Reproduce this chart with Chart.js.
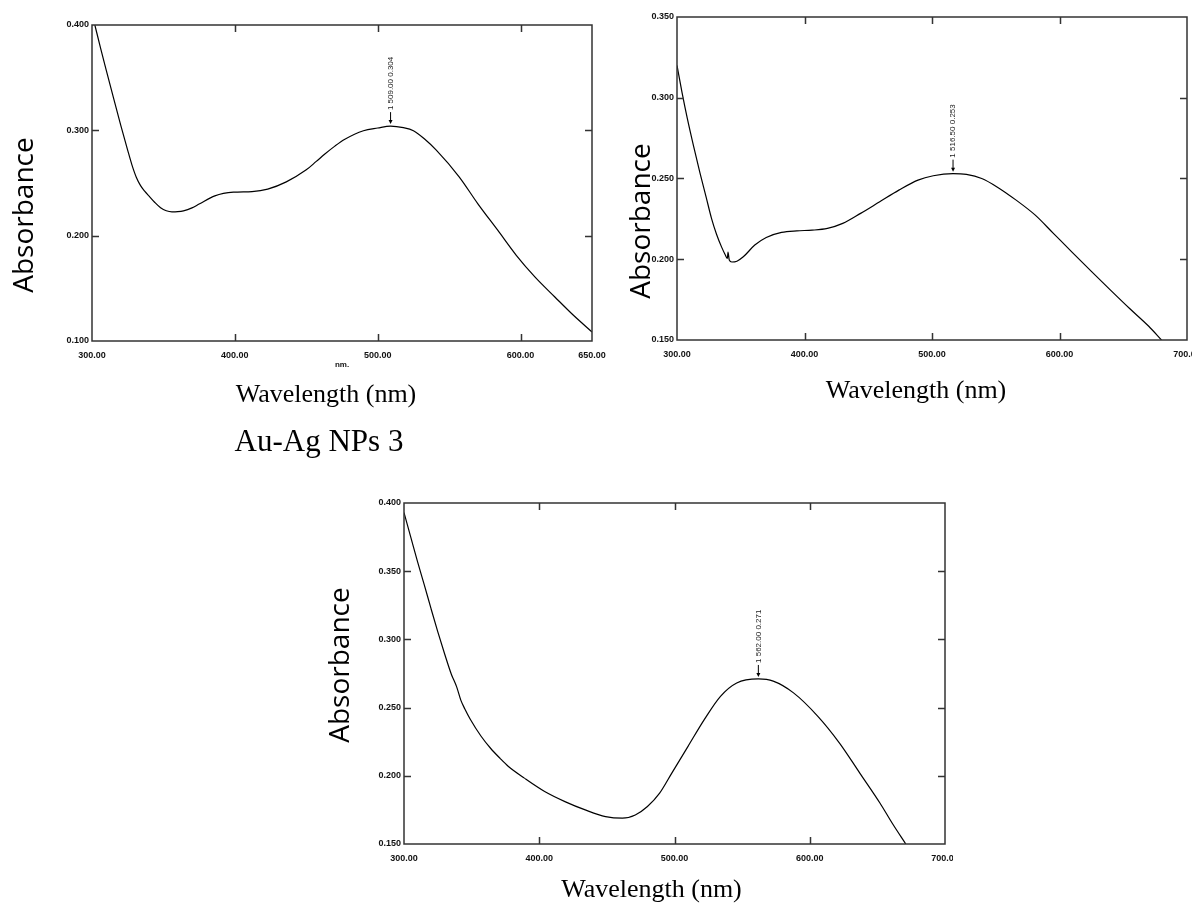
<!DOCTYPE html>
<html>
<head>
<meta charset="utf-8">
<title>UV-Vis absorbance spectra</title>
<script src="https://cdn.jsdelivr.net/npm/chart.js@4.4.1/dist/chart.umd.min.js"></script>
<style>
    html, body { margin: 0; padding: 0; background: #fff; }
    body { position: relative; width: 1192px; height: 903px; overflow: hidden; }
    .panel { position: absolute; overflow: hidden; }
    .panel canvas { display: block; }
</style>
</head>
<body>
<div class="panel" style="left:0;top:0;width:620px;height:420px"><canvas id="spectrum1" width="620" height="420"></canvas></div>
<div class="panel" style="left:580px;top:0;width:612px;height:420px"><canvas id="spectrum2" width="640" height="420"></canvas></div>
<div class="panel" style="left:200px;top:420px;width:753px;height:483px"><canvas id="spectrum3" width="800" height="483"></canvas></div>
<script>
// Sample 1 spectrum (nm / absorbance)
const wavelength1 = [302, 306, 310, 315, 320, 325, 328, 331, 334, 337, 340, 344, 348, 352, 356, 360, 364, 370, 375, 386, 399, 412, 423, 436, 450, 457, 463, 470, 477, 490, 500, 509, 518, 525, 533, 541, 557, 570, 584, 597, 610, 624, 637, 650];
const absorbance1 = [0.400, 0.378, 0.357, 0.331, 0.3055, 0.281, 0.267, 0.2555, 0.2475, 0.242, 0.2375, 0.2315, 0.2265, 0.2236, 0.2226, 0.2228, 0.2236, 0.2264, 0.230, 0.2378, 0.2413, 0.2419, 0.2442, 0.2511, 0.2625, 0.2705, 0.2775, 0.285, 0.2915, 0.2996, 0.3022, 0.304, 0.3025, 0.2996, 0.2915, 0.2812, 0.2559, 0.2305, 0.2052, 0.1814, 0.1609, 0.1418, 0.1244, 0.1086];

// Sample 2 spectrum
const wavelength2 = [300, 304, 308, 313, 318, 323, 327, 331, 335, 338, 339.5, 340, 341, 343, 347, 352, 361, 370, 382, 394, 406, 418, 430, 444, 459, 474, 489, 501, 516.5, 527, 539, 551, 566, 581, 595, 610, 625, 640, 655, 670, 680];
const absorbance2 = [0.320, 0.303, 0.2875, 0.270, 0.2535, 0.238, 0.2255, 0.2155, 0.2075, 0.2025, 0.2005, 0.2045, 0.1995, 0.1983, 0.1988, 0.2015, 0.2088, 0.2135, 0.2166, 0.2176, 0.218, 0.2191, 0.2222, 0.2284, 0.2356, 0.2428, 0.249, 0.2517, 0.253, 0.2525, 0.250, 0.2448, 0.2366, 0.2273, 0.2162, 0.2043, 0.1925, 0.1809, 0.1695, 0.1585, 0.150];

// Sample 3 spectrum (Au-Ag NPs 3)
const wavelength3 = [300, 305, 310, 315, 320, 325, 330, 335, 339, 342, 345, 349, 357, 364, 371, 377, 389, 404, 419, 434, 449, 461.5, 471, 480, 489, 498, 510, 522, 534, 546, 562, 573, 588, 606, 622, 637, 652, 661, 671];
const absorbance3 = [0.393, 0.375, 0.357, 0.340, 0.3225, 0.3055, 0.2895, 0.2745, 0.265, 0.2555, 0.249, 0.2415, 0.229, 0.2202, 0.2128, 0.207, 0.1983, 0.1885, 0.1811, 0.175, 0.1701, 0.1689, 0.1713, 0.1775, 0.1873, 0.202, 0.2216, 0.2412, 0.2583, 0.2681, 0.271, 0.2694, 0.2608, 0.2436, 0.224, 0.202, 0.1799, 0.1652, 0.150];

// Picked maxima [nm, absorbance]
const peak1 = [509.00, 0.304];
const peak2 = [516.50, 0.253];
const peak3 = [562.00, 0.271];

// Axis ticks
const xTicks1 = [300, 400, 500, 600, 650];
const xTicks23 = [300, 400, 500, 600, 700];
const yTicks1 = [0.1, 0.2, 0.3, 0.4];
const yTicks2 = [0.15, 0.2, 0.25, 0.3, 0.35];
const yTicks3 = [0.15, 0.2, 0.25, 0.3, 0.35, 0.4];

const SANS = '"Liberation Sans", Arial, sans-serif';
const SERIF = '"Liberation Serif", "Times New Roman", serif';
const tickFont = { family: SANS, size: 9, weight: 'bold' };

/**
 * Frame with inward ticks on all four sides, the peak marker and the page captions
 */
function spectrumDecor(peak, captions) {
    return {
        id: 'spectrumDecor',
        afterDatasetsDraw(chart) {
            const { ctx, chartArea: { left, top, right, bottom }, scales: { x, y } } = chart;
            ctx.save();
            ctx.strokeStyle = '#333';
            ctx.lineWidth = 1.5;
            ctx.strokeRect(left, top, right - left, bottom - top);

            ctx.beginPath();
            x.ticks.forEach(t => {
                const px = Math.round(x.getPixelForValue(t.value)) + 0.5;
                if (px <= left + 2 || px >= right - 2) return;
                ctx.moveTo(px, bottom); ctx.lineTo(px, bottom - 7);
                ctx.moveTo(px, top); ctx.lineTo(px, top + 7);
            });
            y.ticks.forEach(t => {
                const py = Math.round(y.getPixelForValue(t.value)) + 0.5;
                if (py <= top + 2 || py >= bottom - 2) return;
                ctx.moveTo(left, py); ctx.lineTo(left + 7, py);
                ctx.moveTo(right, py); ctx.lineTo(right - 7, py);
            });
            ctx.stroke();

            // peak marker: arrow plus vertical label
            const px = x.getPixelForValue(peak[0]);
            const py = y.getPixelForValue(peak[1]);
            ctx.strokeStyle = '#000';
            ctx.fillStyle = '#000';
            ctx.lineWidth = 1;
            ctx.beginPath();
            ctx.moveTo(px, py - 14);
            ctx.lineTo(px, py - 4);
            ctx.stroke();
            ctx.beginPath();
            ctx.moveTo(px - 2, py - 6);
            ctx.lineTo(px + 2, py - 6);
            ctx.lineTo(px, py - 2);
            ctx.closePath();
            ctx.fill();

            ctx.translate(px, py - 16);
            ctx.rotate(-Math.PI / 2);
            ctx.font = '8px ' + SANS;
            ctx.fillStyle = '#222';
            ctx.textAlign = 'left';
            ctx.textBaseline = 'middle';
            ctx.fillText('1 ' + peak[0].toFixed(2) + ' ' + peak[1].toFixed(3), 0, 0);
            ctx.restore();
        },
        afterDraw(chart) {
            const { ctx } = chart;
            captions.forEach(c => {
                ctx.save();
                ctx.translate(c.x, c.y);
                if (c.rotate) ctx.rotate(-Math.PI / 2);
                ctx.font = c.font;
                ctx.fillStyle = '#000';
                ctx.textAlign = 'center';
                ctx.textBaseline = 'middle';
                ctx.fillText(c.text, 0, 0);
                ctx.restore();
            });
        }
    };
}

/**
 * Build one absorbance spectrum chart
 */
function makeSpectrum(canvasId, xs, ys, cfg) {
    const ctx = document.getElementById(canvasId).getContext('2d');
    return new Chart(ctx, {
        type: 'line',
        data: {
            datasets: [{
                data: xs.map((v, i) => ({ x: v, y: ys[i] })),
                borderColor: '#000',
                borderWidth: 1.2,
                pointRadius: 0,
                pointHoverRadius: 0,
                cubicInterpolationMode: 'monotone',
                fill: false
            }]
        },
        options: {
            responsive: false,
            animation: false,
            devicePixelRatio: 1,
            events: [],
            layout: { padding: cfg.padding, autoPadding: false },
            plugins: {
                legend: { display: false },
                tooltip: { enabled: false }
            },
            scales: {
                x: {
                    type: 'linear',
                    min: cfg.xMin,
                    max: cfg.xMax,
                    afterBuildTicks: s => { s.ticks = cfg.xTicks.map(v => ({ value: v })); },
                    afterFit: s => { s.height = cfg.xHeight; },
                    grid: { display: false, drawTicks: false },
                    border: { display: false },
                    ticks: {
                        font: tickFont,
                        color: '#111',
                        padding: 9,
                        maxRotation: 0,
                        autoSkip: false,
                        callback: v => v.toFixed(2)
                    },
                    title: cfg.xTitle || { display: false }
                },
                y: {
                    min: cfg.yMin,
                    max: cfg.yMax,
                    afterBuildTicks: s => { s.ticks = cfg.yTicks.map(v => ({ value: v })); },
                    afterFit: s => { s.width = cfg.yWidth; },
                    grid: { display: false, drawTicks: false },
                    border: { display: false },
                    ticks: {
                        font: tickFont,
                        color: '#111',
                        padding: 3,
                        autoSkip: false,
                        callback: v => v.toFixed(3)
                    }
                }
            }
        },
        plugins: [spectrumDecor(cfg.peak, cfg.captions)]
    });
}

const absFont = '28px "Open Sans", "Noto Sans", sans-serif';
const waveFont = '26px ' + SERIF;

makeSpectrum('spectrum1', wavelength1, absorbance1, {
    xMin: 300, xMax: 650, yMin: 0.1, yMax: 0.4,
    xTicks: xTicks1, yTicks: yTicks1,
    padding: { top: 25, right: 28, left: 0, bottom: 0 },
    yWidth: 92, xHeight: 79,
    xTitle: {
        display: true,
        text: 'nm.',
        color: '#111',
        font: { family: SANS, size: 8, weight: 'bold' },
        padding: { top: 0, bottom: 50 }
    },
    peak: peak1,
    captions: [
        { text: 'Absorbance', x: 25.5, y: 215, font: absFont, rotate: true },
        { text: 'Wavelength (nm)', x: 326, y: 395, font: waveFont }
    ]
});

makeSpectrum('spectrum2', wavelength2, absorbance2, {
    xMin: 300, xMax: 700, yMin: 0.15, yMax: 0.35,
    xTicks: xTicks23, yTicks: yTicks2,
    padding: { top: 17, right: 33, left: 0, bottom: 0 },
    yWidth: 97, xHeight: 80,
    peak: peak2,
    captions: [
        { text: 'Absorbance', x: 62.5, y: 221, font: absFont, rotate: true },
        { text: 'Wavelength (nm)', x: 336, y: 391, font: waveFont }
    ]
});

makeSpectrum('spectrum3', wavelength3, absorbance3, {
    xMin: 300, xMax: 700, yMin: 0.15, yMax: 0.4,
    xTicks: xTicks23, yTicks: yTicks3,
    padding: { top: 83, right: 55, left: 0, bottom: 0 },
    yWidth: 204, xHeight: 59,
    peak: peak3,
    captions: [
        { text: 'Au-Ag NPs 3', x: 119, y: 23, font: '31px ' + SERIF },
        { text: 'Absorbance', x: 141.5, y: 245, font: absFont, rotate: true },
        { text: 'Wavelength (nm)', x: 451.5, y: 470, font: waveFont }
    ]
});
</script>
</body>
</html>
